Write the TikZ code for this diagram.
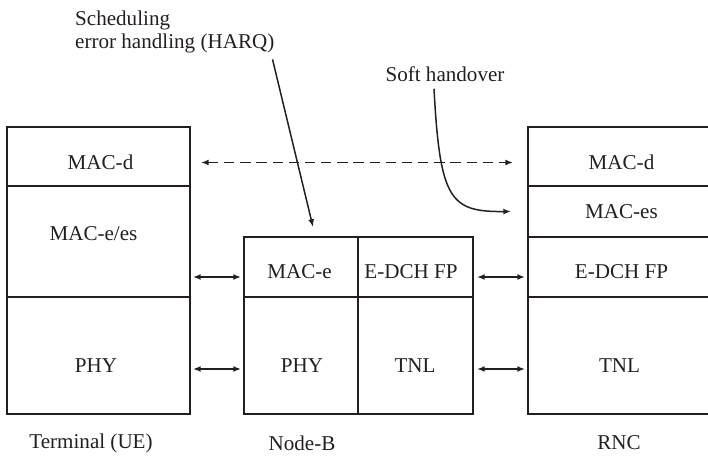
\documentclass[tikz,border=0pt]{standalone}
\usepackage{fontspec}
\setmainfont{Liberation Serif}
\usetikzlibrary{arrows.meta,positioning}
\definecolor{inkcol}{HTML}{231F20}

\begin{document}
\begin{tikzpicture}[
    >={Latex[length=4.4pt,width=3.4pt]},
    every node/.style={font=\fontsize{12}{13.2}\selectfont, text=inkcol},
    cell/.style={draw=inkcol, line width=1.1pt, inner sep=0pt, outer sep=0pt},
    link/.style={inkcol, line width=0.85pt, <->},
  ]

  \useasboundingbox (0,0) rectangle (14.16,9.16);

  % Terminal stack
  \node[cell, minimum width=3.66cm, minimum height=1.18cm] (ue-macd) at (1.97,6.03) {};
  \node[cell, minimum width=3.66cm, minimum height=2.22cm] (ue-mace) at (1.97,4.33) {};
  \node[cell, minimum width=3.66cm, minimum height=2.34cm] (ue-phy) at (1.97,2.05) {};
  \node (t-ue-macd) at (2.01,5.91) {MAC-d};
  \node (t-ue-mace) at (1.87,4.48) {MAC-e/es};
  \node (t-ue-phy) at (1.92,1.84) {PHY};

  % Node-B stack
  \node[cell, minimum width=2.28cm, minimum height=1.20cm] (nb-mace) at (6.02,3.82) {};
  \node[cell, minimum width=2.30cm, minimum height=1.20cm] (nb-fp) at (8.31,3.82) {};
  \node[cell, minimum width=2.28cm, minimum height=2.34cm] (nb-phy) at (6.02,2.05) {};
  \node[cell, minimum width=2.30cm, minimum height=2.34cm] (nb-tnl) at (8.31,2.05) {};
  \node (t-nb-mace) at (5.99,3.72) {MAC-e};
  \node (t-nb-fp) at (8.22,3.72) {E-DCH FP};
  \node (t-nb-phy) at (6.04,1.84) {PHY};
  \node (t-nb-tnl) at (8.30,1.84) {TNL};

  % RNC stack (runs past the right edge)
  \node[cell, minimum width=3.74cm, minimum height=1.18cm] (rnc-macd) at (12.43,6.03) {};
  \node[cell, minimum width=3.74cm, minimum height=1.02cm] (rnc-maces) at (12.43,4.93) {};
  \node[cell, minimum width=3.74cm, minimum height=1.20cm] (rnc-fp) at (12.43,3.82) {};
  \node[cell, minimum width=3.74cm, minimum height=2.34cm] (rnc-tnl) at (12.43,2.05) {};
  \node (t-rnc-macd) at (12.43,5.91) {MAC-d};
  \node (t-rnc-maces) at (12.43,4.93) {MAC-es};
  \node (t-rnc-fp) at (12.43,3.72) {E-DCH FP};
  \node (t-rnc-tnl) at (12.39,1.84) {TNL};

  % Stack names
  \node (ue) at (1.82,0.30) {Terminal (UE)};
  \node (nb) at (6.04,0.30) {Node-B};
  \node (rnc) at (12.38,0.30) {RNC};

  % Peer links
  \draw[link, dashed, dash pattern=on 5.8pt off 3.4pt,
        shorten <=0.22cm, shorten >=0.30cm]
    (ue-macd.east |- t-ue-macd) -- (rnc-macd.west |- t-ue-macd);
  \draw[link, shorten <=0.06cm, shorten >=0.06cm]
    ([yshift=-0.2cm]nb-mace.west -| ue-mace.east) -- ([yshift=-0.2cm]nb-mace.west);
  \draw[link, shorten <=0.06cm, shorten >=0.06cm]
    ([yshift=-0.27cm]nb-phy.west -| ue-phy.east) -- ([yshift=-0.27cm]nb-phy.west);
  \draw[link, shorten <=0.08cm, shorten >=0.06cm]
    ([yshift=-0.2cm]nb-fp.east) -- ([yshift=-0.2cm]rnc-fp.west);
  \draw[link, shorten <=0.08cm, shorten >=0.06cm]
    ([yshift=-0.27cm]nb-tnl.east) -- ([yshift=-0.27cm]rnc-tnl.west);

  % Annotations
  \node[align=left, anchor=west] (harq) at (1.38,8.52)
    {Scheduling\\error handling (HARQ)};
  \coordinate (harq-tip) at (6.26,4.62);
  \draw[inkcol, line width=0.85pt, ->]
    ([xshift=-0.16cm]harq.south east) -- (harq-tip);

  \node (soft) at (8.90,7.68) {Soft handover};
  \draw[inkcol, line width=0.85pt, ->]
    ([xshift=-0.22cm, yshift=-0.02cm]soft.south)
    .. controls (8.80,5.16) and (9.00,4.92) .. ([xshift=-0.34cm]rnc-maces.west);

\end{tikzpicture}
\end{document}
